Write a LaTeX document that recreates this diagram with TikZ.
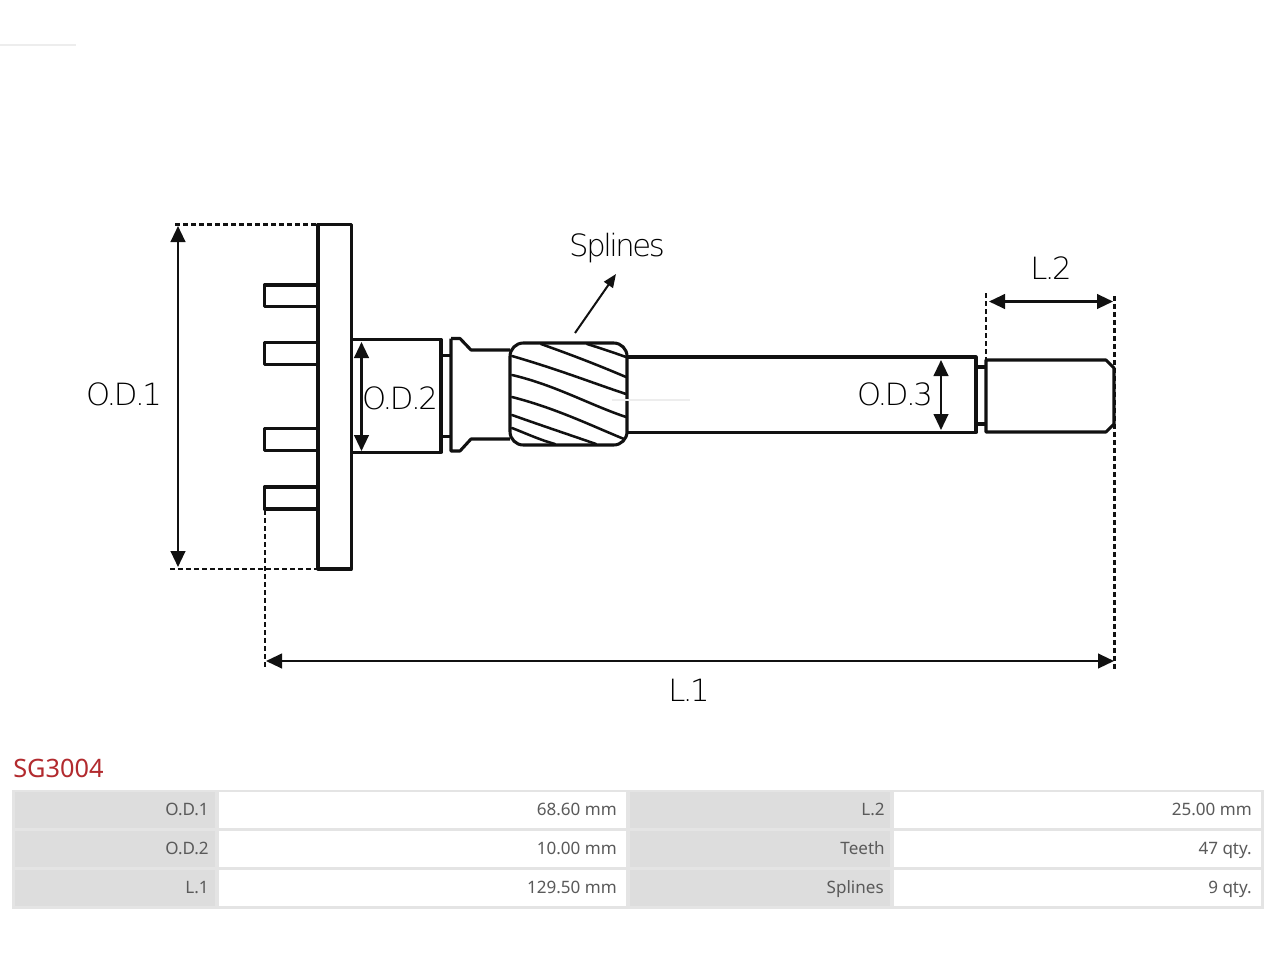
\documentclass[tikz,border=0pt]{standalone}
\usepackage{fontspec}
\setmainfont{Noto Sans}
\newfontfamily\lightfont[LetterSpace=-8]{DejaVu Sans ExtraLight}
\usetikzlibrary{arrows.meta}
\definecolor{cellgray}{HTML}{DDDDDD}
\definecolor{rulegray}{HTML}{E4E4E4}
\definecolor{txtgray}{HTML}{5A5A5A}
\definecolor{titlered}{HTML}{B22A2E}
\definecolor{inkblack}{HTML}{111111}
\definecolor{faintgray}{HTML}{EDEDED}
\tikzset{
  x=0.75pt,y=-0.75pt,
  part/.style={draw=inkblack,line width=2.3pt,line join=round},
  thinpart/.style={draw=inkblack,line width=1.9pt,line cap=round},
  dashline/.style={draw=inkblack,line width=2.1pt,dash pattern=on 3.6pt off 2.4pt},
  dim/.style={draw=inkblack,line width=1.6pt,{Triangle[length=12pt,width=11pt]}-{Triangle[length=12pt,width=11pt]}},
  lead/.style={draw=inkblack,line width=1.5pt,-{Triangle[length=10pt,width=8pt]}},
  dimlabel/.style={font=\lightfont\fontsize{23}{23}\selectfont,text=black,inner sep=0pt},
  lab/.style={font=\fontsize{12.8}{14}\selectfont,text=txtgray,inner sep=0pt,anchor=base east},
  cell/.style={fill=cellgray},
  blank/.style={fill=white},
  faint/.style={draw=faintgray,line width=0.8pt}
}
\begin{document}
\begin{tikzpicture}
\useasboundingbox (0,0) rectangle (1280,960);
\fill[white] (0,0) rectangle (1280,960);
\draw[faint] (0,45) -- (76,45);
% flange and prongs
\draw[part] (318,224.5) rectangle (351.5,569);
\draw[part] (318,285) -- (264.5,285) -- (264.5,306.5) -- (318,306.5);
\draw[part] (318,342.5) -- (264.5,342.5) -- (264.5,364.5) -- (318,364.5);
\draw[part] (318,428.5) -- (264.5,428.5) -- (264.5,450.5) -- (318,450.5);
\draw[part] (318,487) -- (264.5,487) -- (264.5,509) -- (318,509);
% collar
\draw[part] (351.5,339.5) -- (441,339.5) -- (441,452.5) -- (351.5,452.5);
\draw[part] (441,355.5) -- (451,355.5);
\draw[part] (441,436.5) -- (451,436.5);
\draw[part] (451,338.5) -- (460,338.5) -- (471,350) -- (510,350);
\draw[part] (451,338.5) -- (451,451) -- (460,451) -- (471,439) -- (510,439);
% shaft
\draw[part] (627,357) -- (976,357) -- (976,432.5) -- (627,432.5);
\draw[part] (976,367) -- (986,367);
\draw[part] (976,424) -- (986,424);
\draw[part] (986,360) -- (1106,360) -- (1114,368) -- (1114,424) -- (1106,432) -- (986,432) -- cycle;
% splined part
\draw[part,rounded corners=10pt] (510,343) rectangle (627,445);
\draw[faint] (612,400) -- (690,400);
\draw[thinpart] (541,344) .. controls (580,358) and (600,366) .. (626,377);
\draw[thinpart] (587,344) .. controls (600,348) and (612,352) .. (626,357);
\draw[thinpart] (512,356) .. controls (560,370) and (590,382) .. (626,394);
\draw[thinpart] (512,375) .. controls (555,385) and (590,405) .. (626,417);
\draw[thinpart] (512,397) .. controls (555,408) and (590,425) .. (624,439);
\draw[thinpart] (512,415) .. controls (540,425) and (570,435) .. (596,444);
\draw[thinpart] (512,428) .. controls (525,433) and (540,440) .. (555,444);
% dashed extension lines
\coordinate (od1ta) at (175,224.5); \coordinate (od1tb) at (318,224.5);
\coordinate (od1ba) at (170,569); \coordinate (od1bb) at (318,569);
\coordinate (l1a) at (265,510); \coordinate (l1b) at (265,667);
\coordinate (l2a) at (986,293); \coordinate (l2b) at (986,360);
\coordinate (rea) at (1114.5,296); \coordinate (reb) at (1114.5,669);
\draw[dashline] (od1ta) -- (od1tb);
\draw[dashline] (od1ba) -- (od1bb);
\draw[dashline] (l1a) -- (l1b);
\draw[dashline] (l2a) -- (l2b);
\draw[dashline] (rea) -- (reb);
% dimension arrows
\coordinate (a1) at (178,226); \coordinate (a2) at (178,567);
\coordinate (b1) at (361.5,342); \coordinate (b2) at (361.5,451);
\coordinate (c1) at (941,360); \coordinate (c2) at (941,430);
\coordinate (d1) at (989,301.5); \coordinate (d2) at (1113,301.5);
\coordinate (e1) at (266,661); \coordinate (e2) at (1114,661);
\coordinate (f1) at (575,333); \coordinate (f2) at (616,274);
\draw[dim] (a1) -- (a2);
\draw[dim] (b1) -- (b2);
\draw[dim] (c1) -- (c2);
\draw[dim] (d1) -- (d2);
\draw[dim] (e1) -- (e2);
\draw[lead] (f1) -- (f2);
% dimension labels
\node[dimlabel] (tSpl) at (617,248) {Splines};
\node[dimlabel] (tL2) at (1051,268) {L.2};
\node[dimlabel] (tOD1) at (124,394) {O.D.1};
\node[dimlabel] (tOD2) at (400,398.5) {O.D.2};
\node[dimlabel] (tOD3) at (895,394) {O.D.3};
\node[dimlabel] (tL1) at (689,690) {L.1};
% title
\node[font=\fontsize{19}{20}\selectfont,text=titlered,inner sep=0pt,anchor=west] (title) at (13,768.5) {SG3004};
% table
\fill[rulegray] (12,790) rectangle (1264,908.5);
\foreach \ya/\yb in {792/828,831/867,870/906}{
  \fill[cell] (15,\ya) rectangle (215,\yb);
  \fill[blank] (219,\ya) rectangle (626,\yb);
  \fill[cell] (630,\ya) rectangle (890,\yb);
  \fill[blank] (894,\ya) rectangle (1261,\yb);
}
\node[lab] (r1a) at (209,815) {O.D.1};
\node[lab] (r1b) at (617,815) {68.60 mm};
\node[lab] (r1c) at (885,815) {L.2};
\node[lab] (r1d) at (1252,815) {25.00 mm};
\node[lab] (r2a) at (209,854) {O.D.2};
\node[lab] (r2b) at (617,854) {10.00 mm};
\node[lab] (r2c) at (885,854) {Teeth};
\node[lab] (r2d) at (1252,854) {47 qty.};
\node[lab] (r3a) at (209,893) {L.1};
\node[lab] (r3b) at (617,893) {129.50 mm};
\node[lab] (r3c) at (884,893) {Splines};
\node[lab] (r3d) at (1252,893) {9 qty.};
\end{tikzpicture}
\end{document}
